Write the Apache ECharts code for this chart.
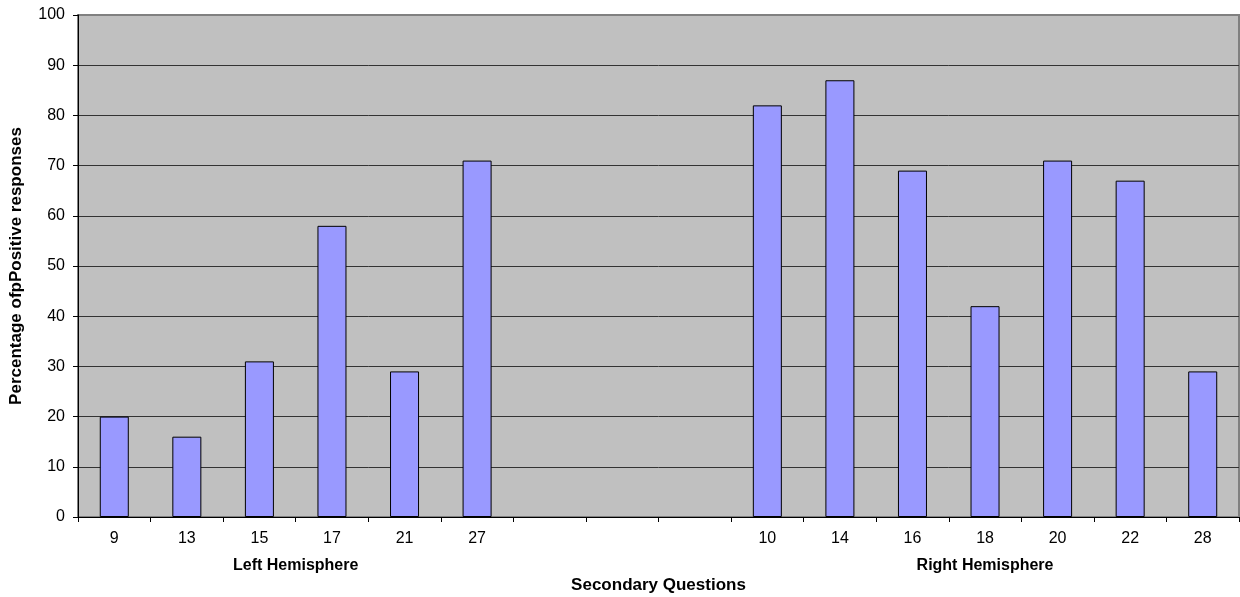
<!DOCTYPE html>
<html>
<head>
<meta charset="utf-8">
<script src="https://cdn.jsdelivr.net/npm/echarts@6/dist/echarts.min.js"></script>
<style>
  html, body { margin: 0; padding: 0; background: #fff; }
  #chart { width: 1240px; height: 597px; }
</style>
</head>
<body>
<div id="chart"></div>
<script>
// Question numbers along the x axis; empty slots separate the two hemispheres
const categories = ['9', '13', '15', '17', '21', '27', '', '', '', '10', '14', '16', '18', '20', '22', '28'];
// Percentage of positive responses per question (null = no bar)
const values = [20, 16, 31, 58, 29, 71, null, null, null, 82, 87, 69, 42, 71, 67, 29];
// Group captions and the category index range each one spans
const groupNames = ['Left Hemisphere', 'Right Hemisphere'];
const groupStart = [0, 9];
const groupEnd = [5, 15];
const yTicks = [0, 10, 20, 30, 40, 50, 60, 70, 80, 90, 100];

const FONT = '"Liberation Sans", Arial, sans-serif';
const chart = echarts.init(document.getElementById('chart'), null, { renderer: 'canvas' });

chart.setOption({
  animation: false,
  textStyle: { fontFamily: FONT },
  grid: {
    left: 78, right: 1, top: 15, bottom: 80,
    outerBoundsMode: 'none',
    show: true, backgroundColor: '#C0C0C0', borderColor: '#808080', borderWidth: 2
  },
  xAxis: {
    type: 'category',
    data: categories,
    boundaryGap: true,
    name: 'Secondary Questions',
    nameLocation: 'middle',
    nameGap: 60,
    nameTextStyle: { fontFamily: FONT, fontSize: 17, fontWeight: 'bold', color: '#000' },
    axisLine: { lineStyle: { color: '#000', width: 1 } },
    axisTick: { show: true, interval: 0, length: 5, lineStyle: { color: '#000' } },
    axisLabel: { interval: 0, margin: 14, fontFamily: FONT, fontSize: 16, color: '#000' },
    splitLine: { show: false }
  },
  yAxis: {
    type: 'value',
    min: yTicks[0],
    max: yTicks[yTicks.length - 1],
    interval: yTicks[1] - yTicks[0],
    name: 'Percentage ofpPositive responses',
    nameLocation: 'middle',
    nameGap: 53,
    nameTextStyle: { fontFamily: FONT, fontSize: 17, fontWeight: 'bold', color: '#000' },
    axisLine: { show: true, lineStyle: { color: '#000', width: 1 } },
    axisTick: { show: true, length: 5, lineStyle: { color: '#000' } },
    axisLabel: { margin: 13, fontFamily: FONT, fontSize: 16, color: '#000' },
    splitLine: { show: true, showMaxLine: false, lineStyle: { color: '#333', width: 1 } }
  },
  series: [{
    type: 'bar',
    data: values,
    barCategoryGap: '60%',
    itemStyle: { color: '#9999FF', borderColor: '#000', borderWidth: 1 }
  }]
});

// Group captions centred under the categories they span
const groupGraphics = groupNames.map((name, i) => {
  const x0 = chart.convertToPixel({ xAxisIndex: 0 }, groupStart[i]);
  const x1 = chart.convertToPixel({ xAxisIndex: 0 }, groupEnd[i]);
  return {
    type: 'text',
    x: (x0 + x1) / 2,
    y: 566,
    style: {
      text: name,
      fontFamily: FONT,
      fontSize: 16,
      fontWeight: 'bold',
      fill: '#000',
      textAlign: 'center',
      textVerticalAlign: 'middle'
    }
  };
});
chart.setOption({ graphic: groupGraphics });
</script>
</body>
</html>
